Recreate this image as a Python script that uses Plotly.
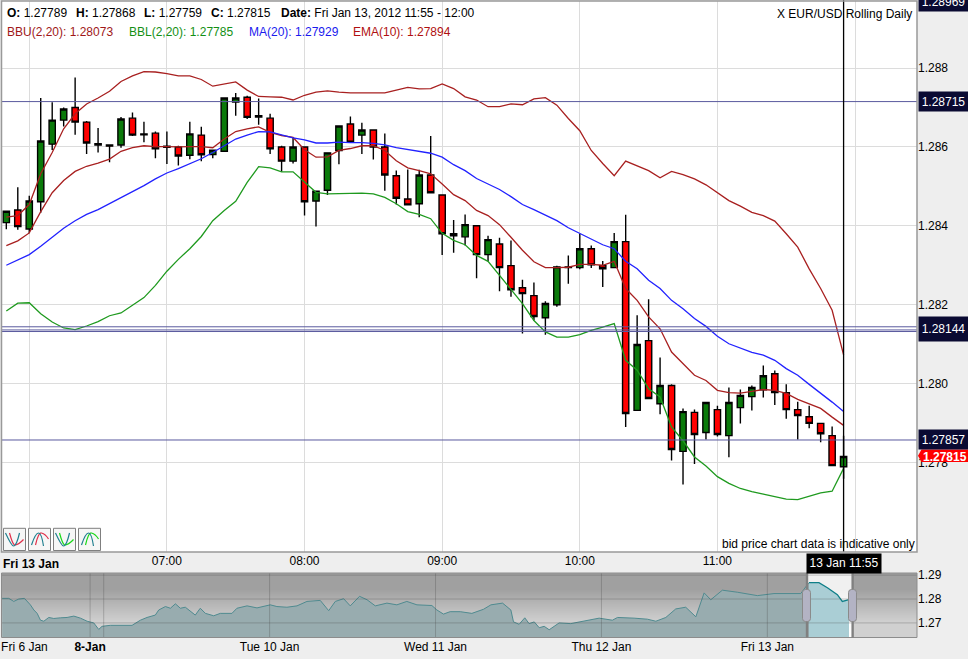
import numpy as np
import pandas as pd
import plotly.graph_objects as go

# ---------- data ----------
start_time = "2012-01-13 05:50"
opens = [1.28408,1.28440,1.28392,1.28461,1.28607,1.28668,1.28700,1.28663,1.28608,1.28605,
         1.28605,1.28673,1.28633,1.28635,1.28602,1.28600,1.28579,1.28630,1.28581,1.28589,
         1.28714,1.28726,1.28679,1.28673,1.28600,1.28564,1.28600,1.28463,1.28490,1.28591,
         1.28658,1.28630,1.28643,1.28600,1.28527,1.28468,1.28456,1.28529,1.28478,1.28380,
         1.28372,1.28400,1.28327,1.28354,1.28299,1.28243,1.28223,1.28167,1.28200,1.28294,
         1.28294,1.28342,1.28299,1.28294,1.28360,1.27932,1.28109,1.27949,1.27995,1.27828,
         1.27927,1.27876,1.27934,1.27868,1.27939,1.27967,1.27984,1.28025,1.27977,1.27934,
         1.27916,1.27899,1.27868,1.27789]
closes = [1.28437,1.28398,1.28463,1.28615,1.28668,1.28696,1.28663,1.28610,1.28605,1.28602,
          1.28671,1.28630,1.28631,1.28595,1.28599,1.28577,1.28633,1.28580,1.28592,1.28724,
          1.28724,1.28675,1.28676,1.28595,1.28564,1.28600,1.28461,1.28488,1.28585,1.28653,
          1.28612,1.28643,1.28600,1.28529,1.28470,1.28453,1.28529,1.28484,1.28380,1.28375,
          1.28403,1.28327,1.28365,1.28294,1.28238,1.28228,1.28170,1.28203,1.28296,1.28296,
          1.28342,1.28301,1.28291,1.28360,1.27924,1.28099,1.27962,1.27995,1.27833,1.27929,
          1.27871,1.27952,1.27871,1.27952,1.27970,1.27990,1.28020,1.27977,1.27934,1.27919,
          1.27899,1.27873,1.27792,1.27815]
highs = [1.28437,1.28498,1.28476,1.28724,1.28713,1.28700,1.28776,1.28666,1.28648,1.28606,
         1.28676,1.28687,1.28664,1.28639,1.28639,1.28603,1.28664,1.28651,1.28592,1.28724,
         1.28737,1.28730,1.28723,1.28684,1.28603,1.28623,1.28600,1.28489,1.28585,1.28653,
         1.28677,1.28661,1.28643,1.28634,1.28540,1.28543,1.28542,1.28628,1.28478,1.28415,
         1.28429,1.28400,1.28375,1.28370,1.28363,1.28263,1.28256,1.28209,1.28299,1.28325,
         1.28380,1.28350,1.28311,1.28382,1.28428,1.28173,1.28214,1.28066,1.27998,1.27937,
         1.27934,1.27954,1.27944,1.27990,1.27985,1.27995,1.28046,1.28033,1.27998,1.27954,
         1.27944,1.27901,1.27891,1.27868]
lows = [1.28391,1.28390,1.28381,1.28433,1.28592,1.28652,1.28631,1.28582,1.28586,1.28561,
        1.28598,1.28628,1.28612,1.28571,1.28557,1.28553,1.28569,1.28564,1.28571,1.28589,
        1.28679,1.28671,1.28656,1.28582,1.28537,1.28558,1.28426,1.28398,1.28478,1.28556,
        1.28612,1.28582,1.28568,1.28489,1.28454,1.28453,1.28422,1.28484,1.28326,1.28332,
        1.28350,1.28267,1.28310,1.28234,1.28220,1.28127,1.28160,1.28124,1.28195,1.28253,
        1.28290,1.28293,1.28245,1.28294,1.27890,1.27932,1.27962,1.27922,1.27805,1.27744,
        1.27796,1.27858,1.27866,1.27813,1.27899,1.27932,1.27965,1.27946,1.27911,1.27858,
        1.27887,1.27851,1.27792,1.27759]
bbu = [1.28422,1.28426,1.28454,1.28532,1.28586,1.28646,1.28684,1.28709,1.28724,1.28741,
       1.28766,1.28780,1.28791,1.28790,1.28786,1.28780,1.28780,1.28771,1.28754,1.28760,
       1.28765,1.28744,1.28728,1.28727,1.28726,1.28719,1.28731,1.28739,1.28742,1.28739,
       1.28737,1.28737,1.28737,1.28737,1.28744,1.28751,1.28747,1.28748,1.28760,1.28748,
       1.28727,1.28719,1.28702,1.28702,1.28709,1.28707,1.28722,1.28725,1.28706,1.28672,
       1.28641,1.28591,1.28558,1.28527,1.28564,1.28553,1.28540,1.28522,1.28538,1.28530,
       1.28519,1.28504,1.28485,1.28464,1.28450,1.28434,1.28426,1.28412,1.28380,1.28346,
       1.28291,1.28241,1.28186,1.28073]
ema = [1.28350,1.28362,1.28382,1.28436,1.28484,1.28515,1.28538,1.28551,1.28559,1.28569,
       1.28589,1.28598,1.28603,1.28601,1.28601,1.28600,1.28601,1.28601,1.28598,1.28620,
       1.28639,1.28646,1.28651,1.28637,1.28629,1.28624,1.28593,1.28574,1.28575,1.28591,
       1.28596,1.28603,1.28603,1.28591,1.28565,1.28547,1.28540,1.28532,1.28506,1.28479,
       1.28464,1.28439,1.28426,1.28403,1.28371,1.28338,1.28309,1.28294,1.28294,1.28295,
       1.28302,1.28302,1.28300,1.28310,1.28241,1.28211,1.28169,1.28139,1.28080,1.28051,
       1.28021,1.28008,1.27983,1.27977,1.27976,1.27980,1.27985,1.27983,1.27975,1.27960,
       1.27949,1.27937,1.27915,1.27894]
ma = [1.28300,1.28314,1.28327,1.28348,1.28371,1.28394,1.28413,1.28429,1.28441,1.28456,
      1.28472,1.28488,1.28502,1.28519,1.28534,1.28545,1.28558,1.28570,1.28586,1.28603,
      1.28620,1.28630,1.28639,1.28638,1.28630,1.28623,1.28618,1.28610,1.28610,1.28612,
      1.28611,1.28611,1.28609,1.28605,1.28598,1.28593,1.28588,1.28584,1.28574,1.28555,
      1.28540,1.28520,1.28506,1.28492,1.28474,1.28454,1.28441,1.28426,1.28413,1.28395,
      1.28381,1.28365,1.28352,1.28342,1.28310,1.28291,1.28262,1.28241,1.28211,1.28190,
      1.28165,1.28145,1.28120,1.28101,1.28089,1.28079,1.28072,1.28059,1.28038,1.28021,
      1.27998,1.27976,1.27953,1.27929]
bbl = [1.28184,1.28204,1.28205,1.28177,1.28156,1.28141,1.28137,1.28146,1.28157,1.28172,
       1.28179,1.28198,1.28218,1.28249,1.28285,1.28315,1.28342,1.28373,1.28413,1.28439,
       1.28462,1.28510,1.28550,1.28547,1.28537,1.28537,1.28512,1.28485,1.28481,1.28482,
       1.28483,1.28483,1.28481,1.28472,1.28456,1.28436,1.28429,1.28418,1.28381,1.28363,
       1.28352,1.28325,1.28310,1.28274,1.28236,1.28203,1.28160,1.28131,1.28118,1.28118,
       1.28124,1.28135,1.28143,1.28152,1.28059,1.28034,1.27987,1.27966,1.27890,1.27855,
       1.27814,1.27791,1.27764,1.27747,1.27734,1.27726,1.27720,1.27713,1.27707,1.27706,
       1.27715,1.27723,1.27727,1.27785]
levels = [1.28715, 1.28144, 1.28136, 1.28132, 1.27857]
level_labels = [1.28969, 1.28715, 1.28144, 1.27857]
last_close = 1.27815
price_ticks = [1.278, 1.280, 1.282, 1.284, 1.286, 1.288]
hour_ticks = ["06:00", "07:00", "08:00", "09:00", "10:00", "11:00", "12:00"]
hour_text = ["", "07:00", "08:00", "09:00", "10:00", "11:00", ""]

nav_days = [8.388,8.428,8.458,8.488,8.522,8.558,8.579,8.599,8.619,8.639,8.669,8.699,8.739,8.779,8.820,8.860,
            8.900,8.940,8.970,8.990,9.040,9.101,9.171,9.221,9.261,9.311,9.332,9.372,9.402,9.432,9.462,9.492,
            9.552,9.582,9.613,9.663,9.703,9.773,9.803,9.864,9.924,10.004,10.044,10.104,10.165,10.225,10.305,
            10.356,10.396,10.446,10.486,10.542,10.587,10.637,10.707,10.767,10.827,10.888,10.978,11.008,11.048,
            11.088,11.149,11.219,11.289,11.334,11.404,11.454,11.470,11.504,11.538,11.564,11.595,11.625,11.655,
            11.685,11.745,11.815,11.896,11.986,12.066,12.097,12.197,12.277,12.328,12.388,12.448,12.508,12.569,
            12.619,12.659,12.729,12.819,12.940,13.040,13.201,13.251,13.311,13.362,13.422,13.452,13.492]
nav_close = [1.28029,1.28029,1.27900,1.28000,1.28029,1.27757,1.27543,1.27400,1.27114,1.27071,1.27229,1.27186,
             1.27214,1.27229,1.27286,1.27200,1.27071,1.27000,1.26729,1.26857,1.26900,1.26914,1.26900,1.27114,
             1.27229,1.27329,1.27543,1.27686,1.27614,1.27800,1.27614,1.27657,1.27329,1.27614,1.27400,1.27300,
             1.27400,1.27400,1.27614,1.27714,1.27629,1.27757,1.27686,1.27657,1.27714,1.27900,1.27943,1.27514,
             1.27900,1.28014,1.27714,1.28114,1.27971,1.27714,1.27829,1.27757,1.27900,1.27757,1.27729,1.27543,
             1.27371,1.27471,1.27471,1.27400,1.27571,1.27757,1.27829,1.27543,1.27043,1.26943,1.27214,1.26971,
             1.27043,1.26800,1.26857,1.26714,1.27000,1.26971,1.27071,1.27200,1.27114,1.27229,1.27200,1.27157,
             1.27071,1.27229,1.27586,1.27657,1.27257,1.28257,1.27971,1.28371,1.28286,1.28143,1.28229,1.28229,
             1.28686,1.28686,1.28471,1.28186,1.27900,1.27971]
nav_tick_days = [8.522, 8.918, 10, 11, 12, 13]
nav_tick_text = ["Fri 6 Jan", "<b>8-Jan</b>", "Tue 10 Jan", "Wed 11 Jan", "Thu 12 Jan", "Fri 13 Jan"]
nav_grid_days = [8.918, 9, 10, 11, 12, 13]
nav_price_ticks = [1.27, 1.28, 1.29]
window_days = [13.239, 13.514]

# ---------- layout helpers (pixels of the 968x659 page) ----------
W, H = 968, 659
FONT = "Liberation Sans, Arial, sans-serif"
def px(x): return x / W
def py(y): return 1 - y / H
def ppath(cmds):
    out = []
    for c in cmds:
        if c[0] == "Z":
            out.append("Z")
        else:
            pts = c[1:]
            s = " ".join(f"{px(pts[i]):.5f},{py(pts[i+1]):.5f}" for i in range(0, len(pts), 2))
            out.append(f"{c[0]}{s}")
    return " ".join(out)

times = pd.date_range(start_time, periods=len(closes), freq="5min")
fig = go.Figure()

fig.add_trace(go.Candlestick(
    x=times, open=opens, high=highs, low=lows, close=closes, whiskerwidth=0,
    increasing=dict(fillcolor="#0a7a0a", line=dict(color="#000000", width=1.4)),
    decreasing=dict(fillcolor="#ff0000", line=dict(color="#000000", width=1.4)),
    showlegend=False, hoverinfo="skip"))
for vals, col, w in [(bbu, "#a82020", 1.3), (ema, "#a82020", 1.3), (ma, "#2222ff", 1.3), (bbl, "#1f9a1f", 1.3)]:
    fig.add_trace(go.Scatter(x=times, y=vals, mode="lines", line=dict(color=col, width=w),
                             showlegend=False, hoverinfo="skip"))

# navigator
nd = np.array(nav_days); nc = np.array(nav_close)
nav_x_range = [8.384, 13.902]
nav_y_range = [1.2639, 1.2909]
y_edges = [nav_y_range[0], sum(nav_y_range) / 2, nav_y_range[1]]
grad = [[1, 1], [0.5, 0.5]]
fig.add_trace(go.Heatmap(x=[nav_x_range[0], sum(nav_x_range) / 2, nav_x_range[1]], y=y_edges,
                         z=[[1, 1], [0, 0]], zsmooth="best",
                         colorscale=[[0, "#a0a0a0"], [1, "#d0d0d0"]], zmin=0, zmax=1, showscale=False,
                         xaxis="x2", yaxis="y2", hoverinfo="skip"))
fig.add_trace(go.Heatmap(x=[window_days[0], sum(window_days) / 2, window_days[1]], y=y_edges,
                         z=[[1, 1], [0, 0]], zsmooth="best",
                         colorscale=[[0, "#f0f0f0"], [1, "#ffffff"]], zmin=0, zmax=1, showscale=False,
                         xaxis="x2", yaxis="y2", hoverinfo="skip"))
dim = nd <= 13.251
sel = nd >= 13.251
fig.add_trace(go.Scatter(x=nd[dim], y=nc[dim], mode="lines", fill="tozeroy", fillcolor="rgb(152,172,175)",
                         line=dict(color="#4f8a8f", width=1), xaxis="x2", yaxis="y2",
                         showlegend=False, hoverinfo="skip"))
fig.add_trace(go.Scatter(x=nd[sel], y=nc[sel], mode="lines", fill="tozeroy", fillcolor="rgb(170,206,213)",
                         line=dict(color="#0f7f88", width=1.3), xaxis="x2", yaxis="y2",
                         showlegend=False, hoverinfo="skip"))

shapes = []
# price levels
for lv in levels:
    shapes.append(dict(type="line", xref="paper", x0=px(1.5), x1=px(917), yref="y", y0=lv, y1=lv,
                       line=dict(color="#5a5a9e", width=1)))
# crosshair
shapes.append(dict(type="line", xref="x", x0=times[-1], x1=times[-1], yref="paper", y0=py(552), y1=1,
                   line=dict(color="#000000", width=1.3)))
# plot border
shapes.append(dict(type="rect", xref="paper", yref="paper", x0=px(1.5), x1=px(917), y0=py(552), y1=py(1),
                   line=dict(color="#999999", width=1.5)))
# navigator grid
for d in nav_grid_days:
    shapes.append(dict(type="line", xref="x2", x0=d, x1=d, yref="paper", y0=py(637), y1=py(573),
                       line=dict(color="rgba(70,70,70,0.28)", width=1)))
for p in nav_price_ticks:
    shapes.append(dict(type="line", xref="paper", x0=px(1.5), x1=px(917), yref="y2", y0=p, y1=p,
                       line=dict(color="rgba(70,70,70,0.28)", width=1)))
shapes.append(dict(type="rect", xref="paper", yref="paper", x0=px(1.5), x1=px(917), y0=py(637.5), y1=py(573),
                   line=dict(color="#8c8c8c", width=1)))
# window edges and handles
for d in window_days:
    shapes.append(dict(type="line", xref="x2", x0=d, x1=d, yref="paper", y0=py(637.5), y1=py(573),
                       line=dict(color="#808080", width=2.4)))
for xl in (802.5, 848.5):
    xr = xl + 8
    shapes.append(dict(type="path", path=ppath([
        ("M", xl + 3, 589.5), ("L", xr - 3, 589.5), ("Q", xr, 589.5, xr, 592.5), ("L", xr, 618.5),
        ("Q", xr, 621.5, xr - 3, 621.5), ("L", xl + 3, 621.5), ("Q", xl, 621.5, xl, 618.5),
        ("L", xl, 592.5), ("Q", xl, 589.5, xl + 3, 589.5), ("Z",)]),
        xref="paper", yref="paper", fillcolor="#b3b3c4", line=dict(color="#8a8a8a", width=1)))
# arrow behind the last price
shapes.append(dict(type="path", path=ppath([
    ("M", 918, 455.7), ("L", 921.5, 449.5), ("L", 968, 449.5), ("L", 968, 462), ("L", 921.5, 462), ("Z",)]),
    xref="paper", yref="paper", fillcolor="#ff0000", line=dict(color="#ff0000", width=0)))
# indicator buttons
for bx, col, up in [(3.5, "#e0304a", False), (28.5, "#e0304a", True), (53.5, "#18d818", False), (78.5, "#18d818", True)]:
    shapes.append(dict(type="rect", xref="paper", yref="paper", x0=px(bx), x1=px(bx + 22), y0=py(550.5), y1=py(528.3),
                       fillcolor="#f6f6f6", line=dict(color="#7f7f7f", width=1)))
    if not up:
        teal = [("M", bx + 2, 533), ("Q", bx + 8, 546, bx + 10, 546), ("Q", bx + 13, 546, bx + 16, 533)]
        tint = [("M", bx + 6, 533), ("Q", bx + 9, 544, bx + 11, 545), ("Q", bx + 15, 545, bx + 20, 539.5)]
    else:
        teal = [("M", bx + 3, 545), ("Q", bx + 7, 533, bx + 10, 533), ("Q", bx + 13, 533, bx + 15, 546)]
        tint = [("M", bx + 7, 545), ("Q", bx + 10, 532, bx + 13, 533), ("Q", bx + 17, 534, bx + 20, 539)]
    shapes.append(dict(type="path", path=ppath(tint), xref="paper", yref="paper", line=dict(color=col, width=1.2)))
    shapes.append(dict(type="path", path=ppath(teal), xref="paper", yref="paper", line=dict(color="#1f7f8f", width=1.2)))

ann = []
def text(x, y, s, color="#000000", size=12, anchor="left", **kw):
    ann.append(dict(xref="paper", yref="paper", x=px(x), y=py(y), text=s, showarrow=False, xanchor=anchor,
                    yanchor="middle", font=dict(family=FONT, size=size, color=color), borderpad=0, **kw))

for x, s in [(6, "<b>O:</b> 1.27789"), (75, "<b>H:</b> 1.27868"), (142.5, "<b>L:</b> 1.27759"), (210, "<b>C:</b> 1.27815"),
             (280, "<b>Date:</b> Fri Jan 13, 2012 11:55 - 12:00")]:
    text(x, 13.5, s)
for x, s, c in [(6, "BBU(2,20): 1.28073", "#a01818"), (128, "BBL(2,20): 1.27785", "#149014"),
                (248, "MA(20): 1.27929", "#1a1aee"), (352, "EMA(10): 1.27894", "#b01010")]:
    text(x, 31.5, s, color=c)
text(913, 14, "X EUR/USD Rolling Daily", anchor="right")
text(916, 544, "bid price chart data is indicative only", anchor="right")
text(2, 563.5, "<b>Fri 13 Jan</b>")

for lv in level_labels:
    ann.append(dict(xref="paper", x=px(918), yref="y", y=lv, text=f"{lv:.5f}", showarrow=False, xanchor="left",
                    yanchor="middle", width=49, height=24 if lv == 1.28144 else 19, align="center", valign="middle",
                    yshift=-2.6 if lv == 1.28144 else 0, bgcolor="#0a0a32", borderpad=0,
                    font=dict(family=FONT, size=12, color="#ffffff")))
ann.append(dict(xref="paper", x=px(921.5), yref="y", y=last_close, text=f"<b>{last_close:.5f}</b>", showarrow=False,
                xanchor="left", yanchor="middle", font=dict(family=FONT, size=12, color="#ffffff"), borderpad=0))
ann.append(dict(xref="x", x=times[-1], yref="paper", y=py(563.5), text="13 Jan 11:55", showarrow=False,
                xanchor="center", yanchor="middle", width=74, height=18.5, bgcolor="#000000", borderpad=0,
                font=dict(family=FONT, size=12, color="#ffffff")))

fig.update_layout(
    width=W, height=H, margin=dict(l=0, r=0, t=0, b=0, autoexpand=False), autosize=False,
    paper_bgcolor="#eeeeee", plot_bgcolor="#ffffff", showlegend=False, boxgap=0.22,
    font=dict(family=FONT, size=12, color="#000000"),
    shapes=shapes, annotations=ann,
    xaxis=dict(domain=[px(1.5), px(917)], range=["2012-01-13 05:47:54", "2012-01-13 12:27:00"], type="date",
               rangeslider=dict(visible=False), tickmode="array",
               tickvals=[f"2012-01-13 {h}" for h in hour_ticks], ticktext=hour_text, showgrid=True,
               gridcolor="#dcdcdc", gridwidth=1.3, zeroline=False, ticks="", anchor="y", fixedrange=True),
    yaxis=dict(domain=[py(552), py(1)], range=[1.27573, 1.2897], side="right", tickmode="array",
               tickvals=price_ticks, ticktext=[f"{t:.3f}" for t in price_ticks], showgrid=True,
               gridcolor="#dcdcdc", gridwidth=1.3, zeroline=False, ticks="", anchor="x", fixedrange=True),
    xaxis2=dict(domain=[px(1.5), px(917)], range=nav_x_range, tickmode="array", tickvals=nav_tick_days,
                ticktext=nav_tick_text, showgrid=False, zeroline=False, ticks="", anchor="y2", fixedrange=True),
    yaxis2=dict(domain=[py(637.5), py(573)], range=nav_y_range, side="right", tickmode="array",
                tickvals=nav_price_ticks, ticktext=[f"{t:.2f}" for t in nav_price_ticks], showgrid=False,
                zeroline=False, ticks="", anchor="x2", fixedrange=True),
)

fig.write_html("out.html", config={"displayModeBar": False},
               post_script="document.body.style.margin='0';")
